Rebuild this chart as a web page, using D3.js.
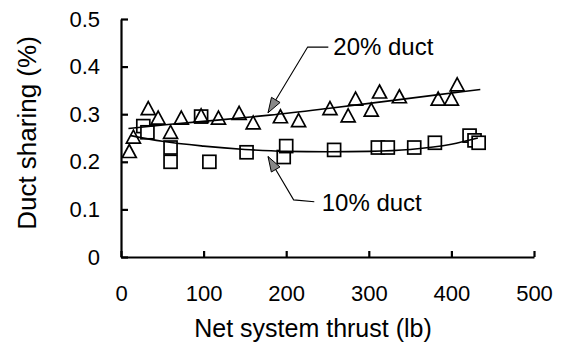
<!DOCTYPE html>
<html lang="en">
<head>
    <meta charset="UTF-8">
    <script src="https://d3js.org/d3.v7.min.js"></script>
    <style>
        body { margin: 0; background: #fff; font-family: "Liberation Sans", Arial, sans-serif; }
        .axis path, .axis line { stroke: #000; stroke-width: 2.2px; }
        .axis text { font-size: 22px; fill: #000; font-family: "Liberation Sans", Arial, sans-serif; }
        .tri, .sq { fill: #fff; stroke: #000; stroke-width: 1.7px; }
        .trend { fill: none; stroke: #000; stroke-width: 1.6px; }
        .lead { fill: none; stroke: #000; stroke-width: 1.1px; }
        .head { fill: #888; stroke: #000; stroke-width: 1px; }
        .note { font-size: 24px; }
    </style>
</head>
<body>
    <svg id="chart"></svg>
    <script>
        // 20% duct (triangles), net thrust lb vs duct sharing
        const duct20 = [
            [10, 0.22], [15, 0.25], [33, 0.31], [45, 0.29], [60, 0.26], [73, 0.29],
            [97, 0.295], [118, 0.29], [143, 0.30], [160, 0.28], [193, 0.293], [215, 0.285],
            [253, 0.31], [275, 0.295], [284, 0.33], [303, 0.307], [313, 0.345], [337, 0.335],
            [384, 0.33], [400, 0.33], [407, 0.36]
        ];
        // 10% duct (squares)
        const duct10 = [
            [27, 0.275], [32, 0.262], [60, 0.23], [60, 0.20], [97, 0.295], [107, 0.20],
            [152, 0.22], [197, 0.21], [200, 0.233], [258, 0.225], [311, 0.23], [323, 0.23],
            [355, 0.23], [380, 0.24], [422, 0.255], [428, 0.245], [433, 0.24]
        ];
        // trend curves
        const trend20 = [[9, 0.27], [60, 0.279], [120, 0.288], [180, 0.298], [250, 0.312],
            [320, 0.327], [380, 0.340], [435, 0.352]];
        const trend10 = [[12, 0.255], [50, 0.243], [100, 0.233], [150, 0.226], [200, 0.222],
            [250, 0.221], [300, 0.222], [350, 0.226], [400, 0.237], [432, 0.25]];

        const xTicks = [0, 100, 200, 300, 400, 500];
        const yTicks = [0, 0.1, 0.2, 0.3, 0.4, 0.5];

        // annotations: [tip, elbow, end], label position
        const notes = [
            { text: "20% duct", path: [[178, 0.303], [226, 0.441], [251, 0.441]], label: [257, 0.441] },
            { text: "10% duct", path: [[178, 0.211], [209, 0.12], [234, 0.116]], label: [243, 0.115] }
        ];

        const W = 568, H = 350;
        const svg = d3.select("#chart").attr("width", W).attr("height", H);

        const x = d3.scaleLinear().domain([0, 500]).range([121, 534]);
        const y = d3.scaleLinear().domain([0, 0.5]).range([257, 19]);

        svg.append("g")
            .attr("class", "axis")
            .attr("transform", "translate(121,0)")
            .call(d3.axisLeft(y).tickValues(yTicks).tickSizeInner(-7).tickSizeOuter(0).tickPadding(21)
                .tickFormat(d => d === 0 ? "0" : d3.format(".1f")(d)));

        svg.append("g")
            .attr("class", "axis")
            .attr("transform", "translate(0,257)")
            .call(d3.axisBottom(x).tickValues(xTicks).tickSizeInner(-6).tickSizeOuter(0).tickPadding(28));

        const line = d3.line().x(d => x(d[0])).y(d => y(d[1])).curve(d3.curveMonotoneX);

        // squares
        const s = 13;
        svg.selectAll(".sq")
            .data(duct10)
            .enter()
            .append("rect")
            .attr("class", "sq")
            .attr("x", d => x(d[0]) - s / 2)
            .attr("y", d => y(d[1]) - s / 2)
            .attr("width", s)
            .attr("height", s);

        // triangles
        const tw = 14, th = 13;
        svg.selectAll(".tri")
            .data(duct20)
            .enter()
            .append("path")
            .attr("class", "tri")
            .attr("d", d => {
                const cx = x(d[0]), cy = y(d[1]);
                return `M${cx},${cy - th * 0.6}L${cx + tw / 2},${cy + th * 0.4}L${cx - tw / 2},${cy + th * 0.4}Z`;
            });

        svg.append("path").attr("class", "trend").attr("d", line(trend20));
        svg.append("path").attr("class", "trend").attr("d", line(trend10));

        // leader lines with arrow heads
        notes.forEach(n => {
            const pts = n.path.map(p => [x(p[0]), y(p[1])]);
            svg.append("path").attr("class", "lead").attr("d", d3.line()(pts));
            const [tx, ty] = pts[0], [ex, ey] = pts[1];
            const a = Math.atan2(ey - ty, ex - tx);
            const L = 15, hw = 5;
            const bx = tx + L * Math.cos(a), by = ty + L * Math.sin(a);
            const px = -Math.sin(a) * hw, py = Math.cos(a) * hw;
            svg.append("path").attr("class", "head")
                .attr("d", `M${tx},${ty}L${bx + px},${by + py}L${bx - px},${by - py}Z`);
            svg.append("text")
                .attr("class", "note")
                .attr("x", x(n.label[0]))
                .attr("y", y(n.label[1]))
                .attr("dy", "0.35em")
                .text(n.text);
        });

        svg.append("text")
            .attr("x", 313)
            .attr("y", 337)
            .attr("text-anchor", "middle")
            .style("font-size", "25px")
            .text("Net system thrust (lb)");

        svg.append("text")
            .attr("transform", "translate(36,133) rotate(-90)")
            .attr("text-anchor", "middle")
            .style("font-size", "26px")
            .text("Duct sharing (%)");
    </script>
</body>
</html>
